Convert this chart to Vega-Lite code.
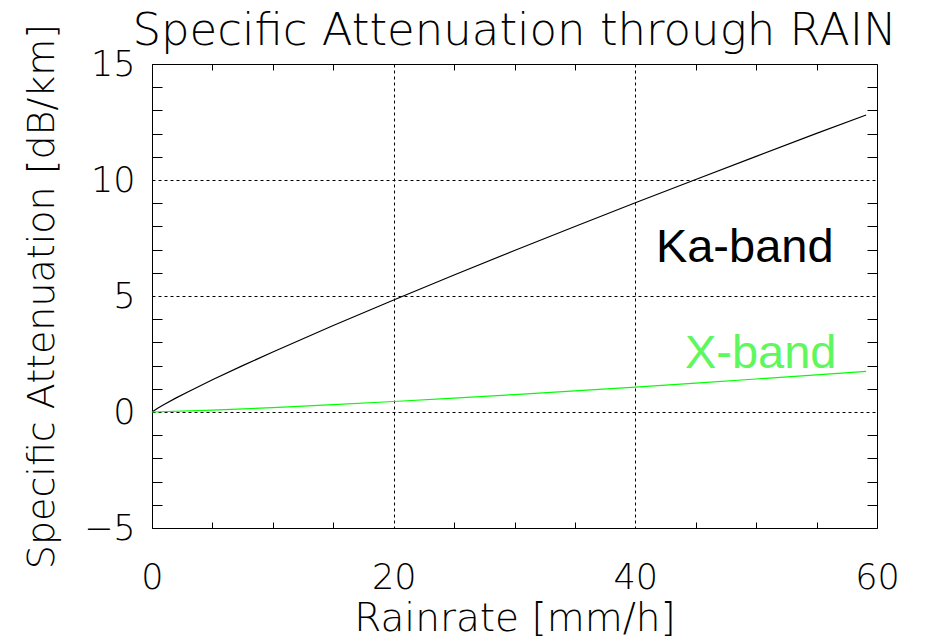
{
  "$schema": "https://vega.github.io/schema/vega-lite/v6.json",
  "width": 725,
  "height": 464,
  "autosize": {"type": "none"},
  "padding": {"left": 152, "top": 64, "right": 51, "bottom": 113},
  "background": "white",
  "config": {
    "view": {"stroke": "black", "strokeWidth": 1},
    "font": "DejaVu Sans"
  },
  "title": {
    "text": "Specific Attenuation through RAIN",
    "fontSize": 45,
    "font": "DejaVu Sans",
    "fontWeight": 200,
    "color": "black",
    "anchor": "middle",
    "offset": -31
  },
  "datasets": {
    "curves": [
      {"R": 0, "A": 0, "band": "Ka-band"},
      {"R": 0.5, "A": 0.175, "band": "Ka-band"},
      {"R": 1, "A": 0.326, "band": "Ka-band"},
      {"R": 2, "A": 0.608, "band": "Ka-band"},
      {"R": 3, "A": 0.876, "band": "Ka-band"},
      {"R": 5, "A": 1.388, "band": "Ka-band"},
      {"R": 7.5, "A": 1.999, "band": "Ka-band"},
      {"R": 10, "A": 2.589, "band": "Ka-band"},
      {"R": 15, "A": 3.73, "band": "Ka-band"},
      {"R": 20, "A": 4.83, "band": "Ka-band"},
      {"R": 25, "A": 5.907, "band": "Ka-band"},
      {"R": 30, "A": 6.961, "band": "Ka-band"},
      {"R": 35, "A": 7.997, "band": "Ka-band"},
      {"R": 40, "A": 9.02, "band": "Ka-band"},
      {"R": 45, "A": 10.02, "band": "Ka-band"},
      {"R": 50, "A": 11.02, "band": "Ka-band"},
      {"R": 55, "A": 12.01, "band": "Ka-band"},
      {"R": 59.1, "A": 12.8, "band": "Ka-band"},
      {"R": 0, "A": 0, "band": "X-band"},
      {"R": 5, "A": 0.08, "band": "X-band"},
      {"R": 10, "A": 0.19, "band": "X-band"},
      {"R": 15, "A": 0.316, "band": "X-band"},
      {"R": 20, "A": 0.453, "band": "X-band"},
      {"R": 25, "A": 0.598, "band": "X-band"},
      {"R": 30, "A": 0.751, "band": "X-band"},
      {"R": 35, "A": 0.911, "band": "X-band"},
      {"R": 40, "A": 1.076, "band": "X-band"},
      {"R": 45, "A": 1.247, "band": "X-band"},
      {"R": 50, "A": 1.423, "band": "X-band"},
      {"R": 55, "A": 1.603, "band": "X-band"},
      {"R": 59.1, "A": 1.754, "band": "X-band"}
    ],
    "labelKa": [{"label": "Ka-band", "R": 41.7, "A": 6.47}],
    "labelX": [{"label": "X-band", "R": 44.1, "A": 1.9}]
  },
  "layer": [
    {
      "data": {"name": "curves"},
      "mark": {"type": "line", "strokeWidth": 1.2},
      "encoding": {
        "x": {
          "field": "R", "type": "quantitative",
          "scale": {"domain": [0, 60], "nice": false, "zero": false},
          "axis": {
            "orient": "bottom",
            "values": [0, 20, 40, 60],
            "grid": true, "gridColor": "black", "gridDash": [3, 3], "gridWidth": 1, "gridOpacity": 1,
            "ticks": false, "domain": false,
            "labelFont": "DejaVu Sans", "labelFontWeight": 200, "labelFontSize": 35, "labelColor": "black",
            "labelPadding": 32, "labelFlush": false,
            "title": "Rainrate [mm/h]",
            "titleFont": "DejaVu Sans", "titleFontWeight": 200, "titleFontSize": 39, "titleColor": "black",
            "titlePadding": 4
          }
        },
        "y": {
          "field": "A", "type": "quantitative",
          "scale": {"domain": [-5, 15], "nice": false, "zero": false},
          "axis": {
            "orient": "left",
            "values": [-5, 0, 5, 10, 15],
            "grid": true, "gridColor": "black", "gridDash": [3, 3], "gridWidth": 1, "gridOpacity": 1,
            "ticks": false, "domain": false,
            "labelFont": "DejaVu Sans", "labelFontWeight": 200, "labelFontSize": 35, "labelColor": "black",
            "labelPadding": 17, "labelFlush": false,
            "labelExpr": "replace(datum.label, '-', '\u2212')",
            "title": "Specific Attenuation [dB/km]",
            "titleFont": "DejaVu Sans", "titleFontWeight": 200, "titleFontSize": 38, "titleColor": "black",
            "titlePadding": 22
          }
        },
        "color": {
          "field": "band", "type": "nominal",
          "scale": {"domain": ["Ka-band", "X-band"], "range": ["black", "#00ff00"]},
          "legend": null
        }
      }
    },
    {
      "data": {"name": "labelKa"},
      "mark": {"type": "text", "align": "left", "baseline": "alphabetic", "font": "Liberation Sans", "fontSize": 47, "color": "black"},
      "encoding": {
        "x": {
          "field": "R", "type": "quantitative",
          "axis": {
            "orient": "bottom",
            "values": [5, 10, 15, 25, 30, 35, 45, 50, 55],
            "ticks": true, "tickSize": -6, "tickColor": "black", "tickWidth": 1,
            "labels": false, "domain": false, "grid": false, "title": null
          }
        },
        "y": {
          "field": "A", "type": "quantitative",
          "axis": {
            "orient": "left",
            "values": [-4, -3, -2, -1, 1, 2, 3, 4, 6, 7, 8, 9, 11, 12, 13, 14],
            "ticks": true, "tickSize": -10, "tickColor": "black", "tickWidth": 1,
            "labels": false, "domain": false, "grid": false, "title": null
          }
        },
        "text": {"field": "label", "type": "nominal"}
      }
    },
    {
      "data": {"name": "labelX"},
      "mark": {"type": "text", "align": "left", "baseline": "alphabetic", "font": "Liberation Sans", "fontSize": 47, "color": "#5ef75e"},
      "encoding": {
        "x": {
          "field": "R", "type": "quantitative",
          "axis": {
            "orient": "top",
            "values": [5, 10, 15, 25, 30, 35, 45, 50, 55],
            "ticks": true, "tickSize": -6, "tickColor": "black", "tickWidth": 1,
            "labels": false, "domain": false, "grid": false, "title": null
          }
        },
        "y": {
          "field": "A", "type": "quantitative",
          "axis": {
            "orient": "right",
            "values": [-4, -3, -2, -1, 1, 2, 3, 4, 6, 7, 8, 9, 11, 12, 13, 14],
            "ticks": true, "tickSize": -10, "tickColor": "black", "tickWidth": 1,
            "labels": false, "domain": false, "grid": false, "title": null
          }
        },
        "text": {"field": "label", "type": "nominal"}
      }
    }
  ],
  "resolve": {"axis": {"x": "independent", "y": "independent"}}
}
